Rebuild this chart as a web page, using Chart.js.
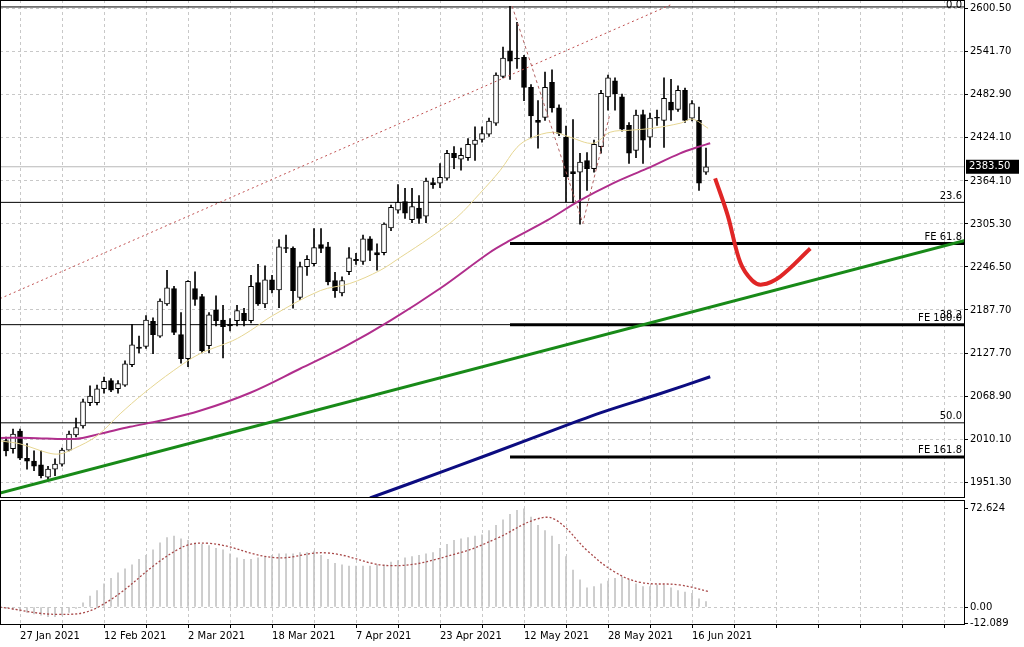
<!DOCTYPE html>
<html><head><meta charset="utf-8">
<script src="https://cdn.jsdelivr.net/npm/chart.js@4/dist/chart.umd.min.js"></script>
<style>
html,body{margin:0;padding:0;background:#fff;width:1024px;height:647px;overflow:hidden}
#c1{position:absolute;left:0;top:0}
#c2{position:absolute;left:0;top:498px}
</style></head><body>
<canvas id="c1" width="1024" height="498"></canvas>
<canvas id="c2" width="1024" height="149"></canvas>
<script>
// ---- data ----
const firstIndex = -2; // bar index of first candle (0 = 27 Jan 2021)
const opens  = [2009,1998,2022,1985,1981,1976,1959,1970,1977,1996,2017,2029,2061,2061,2080,2091,2080,2085,2113,2137,2138,2172,2152,2196,2217,2154,2121,2217,2206,2139,2188,2174,2168,2173,2183,2173,2225,2196,2229,2215,2273,2272,2205,2247,2251,2277,2274,2228,2211,2240,2257,2254,2285,2266,2266,2300,2324,2336,2311,2327,2316,2362,2361,2368,2402,2394,2396,2414,2421,2428,2443,2507,2542,2532,2533,2492,2447,2451,2499,2464,2424,2377,2376,2392,2381,2411,2479,2501,2479,2440,2406,2455,2424,2451,2447,2472,2462,2488,2450,2447,2376];
const closes = [1995,2018,1985,1981,1974,1961,1970,1977,1996,2018,2027,2062,2070,2080,2090,2078,2087,2114,2140,2135,2174,2154,2200,2218,2157,2121,2227,2202,2132,2181,2173,2165,2166,2187,2173,2220,2196,2229,2215,2274,2272,2214,2247,2257,2273,2272,2226,2214,2228,2259,2255,2285,2269,2263,2305,2328,2335,2320,2329,2313,2364,2359,2369,2402,2396,2399,2414,2420,2429,2446,2509,2532,2528,2531,2492,2453,2444,2492,2464,2429,2370,2374,2390,2381,2414,2484,2505,2483,2435,2402,2454,2420,2450,2450,2477,2461,2488,2447,2470,2361,2383.5];
const highs  = [2014,2025,2025,2005,1995,1995,1974,1984,1999,2022,2040,2066,2084,2085,2096,2094,2091,2118,2168,2152,2180,2177,2203,2242,2220,2184,2228,2240,2209,2184,2207,2194,2176,2194,2190,2235,2250,2248,2235,2284,2290,2274,2253,2262,2299,2299,2280,2239,2233,2273,2265,2290,2288,2278,2307,2331,2359,2354,2354,2344,2368,2368,2388,2406,2411,2409,2422,2438,2438,2450,2512,2547,2603,2581,2536,2496,2474,2513,2516,2468,2439,2448,2402,2403,2420,2488,2509,2505,2483,2444,2461,2461,2457,2461,2505,2503,2494,2491,2474,2465,2409];
const lows   = [1988,1992,1983,1970,1968,1958,1955,1961,1974,1995,2014,2026,2057,2058,2074,2076,2074,2083,2110,2129,2135,2128,2150,2194,2154,2115,2110,2194,2129,2129,2166,2122,2159,2166,2166,2170,2194,2191,2211,2191,2266,2190,2202,2235,2248,2266,2222,2205,2207,2236,2250,2250,2255,2242,2263,2296,2320,2313,2307,2306,2307,2354,2355,2365,2381,2379,2392,2392,2417,2425,2440,2505,2503,2518,2474,2423,2409,2447,2458,2426,2335,2335,2305,2351,2376,2402,2461,2461,2432,2388,2396,2388,2410,2440,2410,2447,2459,2444,2446,2351,2373];
const histValues = [-1,-2,-3,-4,-5,-6,-7,-7,-6,-4,-1,3,8,12,17,21,25,28,31,35,38,42,47,51,52,50,49,47,46,45,43,42,39,36,35,35,36,37,38,39,39,39,40,40,41,38,35,32,31,30,30,30,30,31,31,33,34,36,37,38,39,40,43,46,49,50,51,52,53,56,60,64,68,71,72,66,60,56,52,46,37,27,20,14,15,17,19,21,22,20,17,15,15,16,16,14,12,11,10,6,4];
const signalIdx = [-2.9,5.5,11.2,22.4,27,36.4,43.8,53.2,62.5,68.1,73.7,76.5,81.2,84.9,88.6,94.2,98.5];
const signalVal = [0,-5.4,0,41.8,46.7,36.2,39.7,30.3,39.3,50.3,64.3,64,40.6,25.9,18.1,16.2,11.2];
const maFastIdx = [-2.86,0,4,5.7,7.6,11,14.3,17.6,21.9,25.7,30.4,32.9,36.1,42.9,47.1,51.4,54.3,58.6,62.4,65.7,68.6,71,72.9,76.1,78.6,81.9,84.3,87.1,90.4,94.3,96.1,98.3];
const maFastVal = [2008.7,2004.6,1992.3,1990.9,1997.7,2015.6,2045.7,2073.1,2104.6,2127.9,2145.7,2159.4,2180,2214.2,2223.8,2241.6,2259.4,2286.8,2314.2,2347.1,2378.6,2410.1,2422.4,2430.7,2423.8,2415.6,2430.7,2433.4,2436.1,2443,2448.5,2436.1];
const maMidIdx = [-2.86,1.4,7.9,11.4,15.7,20,25.7,32.9,40,46.4,52.9,60,67.1,70,75.3,80,84.7,89.6,94.3,96.7,98.6];
const maMidVal = [2012.8,2012.8,2011.4,2018.3,2027.9,2036.1,2049.8,2074.5,2107.3,2137.5,2173.1,2217,2266.3,2282.7,2310.1,2337.5,2360.8,2381.3,2401.9,2410.1,2415.6];
const maSlowIdx = [50,61.4,72.9,82.9,91.4,98.6];
const maSlowVal = [1930.6,1970.3,2011.4,2047,2073.1,2096.4];
const trendIdx = [-2.86,135]; const trendVal = [1937.5,2282.7];
const channelIdx = [-2.86,92.9]; const channelVal = [2203.2,2604.7];
const zigzagIdx = [70.3,80.4,84.3]; const zigzagVal = [2603.3,2306,2456.7];
const projIdx = [99.3,101.1,102.9,104.6,106,108.6,112.9];
const projVal = [2367.6,2317,2252.6,2228,2222.4,2233.4,2271.7];
const fibLevels = [2602,2334.8,2167.6,2033.4]; const fibLabels = ['0.0','23.6','38.2','50.0'];
const feLevels = [2278.6,2167.6,1986.8]; const feLabels = ['FE 61.8','FE 100.0','FE 161.8'];
const feStart = 70;
const lastPrice = 2383.5;
const priceTicks = [2600.5,2541.7,2482.9,2424.1,2364.1,2305.3,2246.5,2187.7,2127.7,2068.9,2010.1,1951.3];
const oscTicks = [72.624,0,-12.089];
const dateLabels = ['27 Jan 2021','12 Feb 2021','2 Mar 2021','18 Mar 2021','7 Apr 2021','23 Apr 2021','12 May 2021','28 May 2021','16 Jun 2021'];
const dateIdx = [0,12,24,36,48,60,72,84,96];
const xMin = -2.86, xMax = 135;

// ---- build ----
const pts = (xs, ys) => xs.map((x,i)=>({x, y: ys[i]}));
const idx = opens.map((_,i)=>firstIndex+i);
const FONT = {family:'DejaVu Sans', size:10};
const gridTicks = []; for (let t=0; t<=132; t+=6) gridTicks.push(t);
const noPad = s=>{s.paddingLeft=0;s.paddingRight=0;s.paddingTop=0;s.paddingBottom=0;};

const frame = {id:'frame', afterDraw(c){const a=c.chartArea,x=c.ctx;x.save();x.strokeStyle='#000';x.lineWidth=1;x.strokeRect(a.left+0.5,a.top+0.5,a.right-a.left-1,a.bottom-a.top-1);x.restore();}};
const labels = {id:'fibtext', afterDraw(c){
  const a=c.chartArea,x=c.ctx,y=c.scales.y; x.save(); x.font='10px "DejaVu Sans"'; x.fillStyle='#000'; x.textAlign='right'; x.textBaseline='bottom';
  fibLevels.forEach((v,i)=>{ if(fibLabels[i]!=='38.2') x.fillText(fibLabels[i], a.right-3, Math.max(y.getPixelForValue(v)-1,10));});
  x.fillText('38.2', a.right-3, y.getPixelForValue(fibLevels[2])-4);
  feLevels.forEach((v,i)=>x.fillText(feLabels[i], a.right-3, y.getPixelForValue(v)-1));
  const py=y.getPixelForValue(lastPrice); x.fillStyle='#000'; x.fillRect(a.right+1,py-7,53,14); x.fillStyle='#fff'; x.textAlign='left'; x.textBaseline='middle'; x.fillText(lastPrice.toFixed(2), a.right+4, py);
  x.restore();}};

const line = (data,color,width,dash,order=0)=>({type:'line',data,borderColor:color,borderWidth:width,borderDash:dash||[],pointRadius:0,fill:false,tension:0.35,order});
const hline = (v,color,width,from=xMin)=>({...line([{x:from,y:v},{x:xMax,y:v}],color,width,null,3),tension:0});

const ds = [
  {type:'bar',data:idx.map((x,i)=>({x,y:[lows[i],highs[i]]})),backgroundColor:'#000',barThickness:1,grouped:false,order:2},
  {type:'bar',data:idx.map((x,i)=>({x,y:[opens[i],closes[i]]})),backgroundColor:idx.map((_,i)=>closes[i]>=opens[i]?'#fff':'#000'),borderColor:'#000',borderWidth:1,borderSkipped:false,barThickness:5,grouped:false,order:1},
  hline(lastPrice,'#b8b8b8',1),
  ...fibLevels.map(v=>hline(v,'#000',1)),
  ...feLevels.map(v=>hline(v,'#000',3,feStart)),
  {...line(pts(trendIdx,trendVal),'#188a18',3,null,0),tension:0},
  {...line(pts(channelIdx,channelVal),'#c05050',1,[2,3],0),tension:0},
  {...line(pts(zigzagIdx,zigzagVal),'#b06060',1,[3,3],0),tension:0},
  line(pts(maFastIdx,maFastVal),'#e6d692',1,null,0),
  line(pts(maMidIdx,maMidVal),'#b02e8c',2,null,0),
  line(pts(maSlowIdx,maSlowVal),'#0c0c80',3,null,0),
  line(pts(projIdx,projVal),'#e02626',4,null,0),
];

new Chart(document.getElementById('c1'),{
  data:{datasets:ds},
  options:{responsive:false,animation:false,events:[],layout:{padding:0},
    plugins:{legend:{display:false},tooltip:{enabled:false}},
    scales:{
      x:{type:'linear',min:xMin,max:xMax,offset:false,afterBuildTicks:s=>{s.ticks=gridTicks.map(v=>({value:v}));},
         ticks:{display:false},grid:{color:'#c8c8c8',drawTicks:false,offset:false},border:{display:false,dash:[3,3]},afterFit:s=>{s.height=0;noPad(s);}},
      y:{position:'right',min:1930.6,max:2611.5,afterBuildTicks:s=>{s.ticks=priceTicks.map(v=>({value:v}));},
         ticks:{font:FONT,color:'#000',padding:2,callback:v=>v.toFixed(2)},grid:{color:'#c8c8c8',tickColor:'#000',tickLength:3},border:{display:false,dash:[3,3]},afterFit:s=>{s.width=59;noPad(s);}}
    }},
  plugins:[frame,labels]
});

new Chart(document.getElementById('c2'),{
  data:{datasets:[
    {type:'bar',data:idx.map((x,i)=>({x,y:histValues[i]})),backgroundColor:'#c4c4c4',barThickness:1,grouped:false,order:2},
    {type:'line',data:pts(signalIdx,signalVal),borderColor:'#a84848',borderWidth:1.3,borderDash:[2,2],pointRadius:0,tension:0.4,order:0}
  ]},
  options:{responsive:false,animation:false,events:[],layout:{padding:{top:2}},
    plugins:{legend:{display:false},tooltip:{enabled:false}},
    scales:{
      x:{type:'linear',min:xMin,max:xMax,offset:false,afterBuildTicks:s=>{s.ticks=gridTicks.map(v=>({value:v}));},
         ticks:{font:FONT,color:'#000',align:'start',maxRotation:0,autoSkip:false,padding:2,callback:v=>{const k=dateIdx.indexOf(v);return k>=0?dateLabels[k]:'';}},
         grid:{color:'#c8c8c8',tickColor:'#000',tickLength:3,offset:false},border:{display:false,dash:[3,3]},afterFit:s=>{s.height=22;noPad(s);}},
      y:{position:'right',min:-13.2,max:78.5,afterBuildTicks:s=>{s.ticks=oscTicks.map(v=>({value:v}));},
         ticks:{font:FONT,color:'#000',padding:2,callback:v=>v===0?'0.00':String(v)},grid:{color:c=>c.tick&&c.tick.value===0?'#c8c8c8':'rgba(0,0,0,0)',tickColor:'#000',tickLength:3},border:{display:false,dash:[3,3]},afterFit:s=>{s.width=59;noPad(s);}}
    }},
  plugins:[frame]
});
</script></body></html>
